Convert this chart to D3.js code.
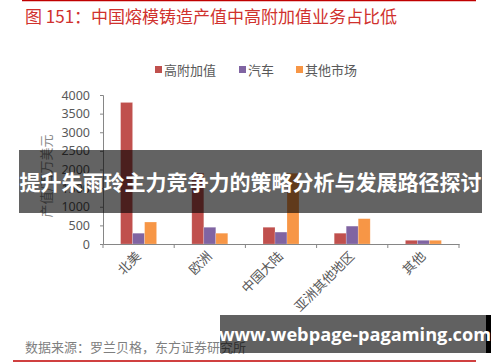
<!DOCTYPE html>
<html><head><meta charset="utf-8">
<script src="https://cdn.jsdelivr.net/npm/d3@7"></script>
<style>body{margin:0;background:#fff;}svg{display:block;font-family:"Noto Sans CJK SC","Noto Sans",sans-serif;}</style>
</head><body>
<svg id="c" width="500" height="362"></svg>
<script>
const categories = ["北美","欧洲","中国大陆","亚洲其他地区","其他"];
const seriesNames = ["高附加值","汽车","其他市场"];
const highValue = [3800, 1900, 450, 290, 100];
const auto = [290, 450, 320, 480, 100];
const otherMarket = [590, 290, 1900, 680, 100];
const yTicks = [0,500,1000,1500,2000,2500,3000,3500,4000];
const colors = ["#C0504D","#8064A2","#F79646"];
const title = "图 151：中国熔模铸造产值中高附加值业务占比低";
const source = "数据来源：罗兰贝格，东方证券研究所";
const yLabel = "产值/百万美元";
const banner = "提升朱雨玲主力竞争力的策略分析与发展路径探讨";
const watermark = "www.webpage-pagaming.com";

const series = [highValue, auto, otherMarket];
const svg = d3.select("#c");

// top/bottom red rules
svg.append("line").attr("x1",22).attr("x2",476).attr("y1",0.5).attr("y2",0.5).attr("stroke","#C00000").attr("stroke-width",1.5);
svg.append("line").attr("x1",13).attr("x2",476).attr("y1",361).attr("y2",361).attr("stroke","#C00000").attr("stroke-width",1.5);

svg.append("text").attr("x",25).attr("y",23).attr("fill","#D0312D").attr("font-size",17).text(title);

const x0 = d3.scaleBand().domain(categories).range([103,459]);
const x1 = d3.scaleBand().domain(seriesNames).range([0,36]);
const y = d3.scaleLinear().domain([0,4000]).range([244,95]);

// legend
const legX = [155,239,296];
seriesNames.forEach((s,i)=>{
  const g = svg.append("g").attr("transform",`translate(${legX[i]},70)`);
  g.append("rect").attr("x",0).attr("y",-4).attr("width",7).attr("height",7).attr("fill",colors[i]);
  g.append("text").attr("x",9).attr("y",4.5).attr("font-size",13).attr("fill","#595959").text(s);
});

// bars
categories.forEach((c,ci)=>{
  const cx = x0(c) + x0.bandwidth()/2 - 18;
  series.forEach((arr,si)=>{
    svg.append("rect")
      .attr("x", cx + x1(seriesNames[si]))
      .attr("y", y(arr[ci]))
      .attr("width", x1.bandwidth())
      .attr("height", y(0)-y(arr[ci]))
      .attr("fill", colors[si])
      .attr("stroke","#ffffff").attr("stroke-opacity",0.35).attr("stroke-width",0.6);
  });
});

// y axis
const ya = svg.append("g").attr("transform","translate(103,0)")
  .call(d3.axisLeft(y).tickValues(yTicks).tickSize(3).tickPadding(10).tickFormat(d3.format("d")));
ya.selectAll("path,line").attr("stroke","#868686");
ya.selectAll("text").attr("font-size",12.5).attr("fill","#595959").attr("font-family","'Noto Sans','Noto Sans CJK SC',sans-serif");

// x axis
const xa = svg.append("g").attr("transform","translate(0,244)")
  .call(d3.axisBottom(x0).tickSize(0).tickFormat(""));
xa.selectAll("path").attr("stroke","#868686");
const bounds = [103].concat(categories.map(c=>x0(c)+x0.bandwidth()));
bounds.forEach(b=>{
  svg.append("line").attr("x1",b).attr("x2",b).attr("y1",244).attr("y2",248).attr("stroke","#868686");
});
categories.forEach(c=>{
  const cx = x0(c)+x0.bandwidth()/2+3;
  svg.append("text").attr("transform",`translate(${cx},257) rotate(-45)`)
    .attr("text-anchor","end").attr("font-size",13).attr("fill","#595959").text(c);
});

// y label
svg.append("text").attr("transform","translate(51,176) rotate(-90)")
  .attr("text-anchor","middle").attr("font-size",13).attr("fill","#8a8a8a").text(yLabel);

// source
svg.append("text").attr("x",25).attr("y",352).attr("font-size",13).attr("fill","#7f7f7f").text(source);

// banner overlay
svg.append("rect").attr("x",19).attr("y",150).attr("width",463).attr("height",63).attr("fill","#000").attr("opacity",0.61);
svg.append("text").attr("x",250.5).attr("y",190).attr("text-anchor","middle").attr("font-size",21).attr("font-weight","bold").attr("fill","#fff").text(banner);

// watermark
svg.append("rect").attr("x",220).attr("y",315).attr("width",267).attr("height",38).attr("fill","#000").attr("opacity",0.62);
svg.append("rect").attr("x",486).attr("y",315).attr("width",5).attr("height",38).attr("fill","#000");
svg.append("text").attr("x",355).attr("y",341).attr("text-anchor","middle").attr("font-size",18.2).attr("font-weight","bold").attr("fill","#fff").attr("font-family","'Open Sans','DejaVu Sans',sans-serif").text(watermark);
</script>
</body></html>
